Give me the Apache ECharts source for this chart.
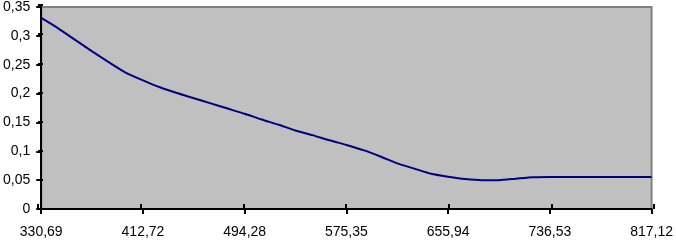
<!DOCTYPE html>
<html>
<head>
<meta charset="utf-8">
<script src="https://cdn.jsdelivr.net/npm/echarts@6/dist/echarts.min.js"></script>
<style>
html,body{margin:0;padding:0;background:#ffffff;}
#chart{width:676px;height:242px;}
</style>
</head>
<body>
<div id="chart"></div>
<script>
// Wavelength categories (labelled every 6th; intermediate ones estimated)
const categories = [
  "330,69","344,36","358,03","371,70","385,38","399,05",
  "412,72","426,31","439,91","453,50","467,09","480,69",
  "494,28","507,79","521,30","534,81","548,33","561,84",
  "575,35","588,78","602,21","615,65","629,08","642,51",
  "655,94","669,37","682,80","696,24","709,67","723,10",
  "736,53","749,96","763,39","776,83","790,26","803,69",
  "817,12"
];
const values = [
  0.331,0.313,0.293,0.273,0.254,0.236,
  0.223,0.211,0.201,0.192,0.183,0.174,
  0.165,0.155,0.146,0.136,0.128,0.119,
  0.111,0.102,0.091,0.079,0.070,0.061,
  0.056,0.052,0.050,0.050,0.0525,0.055,
  0.0555,0.0555,0.0555,0.0555,0.0555,0.0555,
  0.0555
];
const yMin = 0, yMax = 0.35, yStep = 0.05;

const font = "'Liberation Sans', Arial, sans-serif";
const chart = echarts.init(document.getElementById('chart'), null, {renderer:'canvas'});
const gridPos = {left:38, right:22, top:5, bottom:33};
chart.setOption({
  animation:false,
  grid:[
    Object.assign({show:true, backgroundColor:'#C0C0C0', borderColor:'#808080', borderWidth:2}, gridPos),
    Object.assign({show:false}, gridPos)
  ],
  xAxis:[
    {
      type:'category', gridIndex:0, data:categories, boundaryGap:false,
      axisLine:{show:true, lineStyle:{color:'#000', width:2}},
      axisTick:{show:true, interval:5, length:5, lineStyle:{color:'#000', width:2}},
      axisLabel:{interval:5, margin:16, fontSize:14, color:'#000', fontFamily:font},
      splitLine:{show:false}
    },
    {
      type:'category', gridIndex:1, data:categories, boundaryGap:false,
      axisLine:{show:false},
      axisTick:{show:true, inside:true, interval:5, length:5, lineStyle:{color:'#000', width:2}},
      axisLabel:{show:false},
      splitLine:{show:false}
    }
  ],
  yAxis:[
    {
      type:'value', gridIndex:0, min:yMin, max:yMax, interval:yStep,
      axisLine:{show:true, lineStyle:{color:'#000', width:2}},
      axisTick:{show:true, length:5, lineStyle:{color:'#000', width:2}},
      axisLabel:{margin:11, fontSize:14, color:'#000', fontFamily:font,
        formatter:function(v){ return String(+v.toFixed(2)).replace('.', ','); }},
      splitLine:{show:false}
    },
    {
      type:'value', gridIndex:1, min:yMin, max:yMax, interval:yStep,
      axisLine:{show:false},
      axisTick:{show:true, inside:true, length:5, lineStyle:{color:'#000', width:2}},
      axisLabel:{show:false},
      splitLine:{show:false}
    }
  ],
  series:[{
    type:'line', xAxisIndex:0, yAxisIndex:0, data:values,
    showSymbol:false, smooth:0.2,
    lineStyle:{color:'#000080', width:2}, itemStyle:{color:'#000080'}
  }]
});
</script>
</body>
</html>
